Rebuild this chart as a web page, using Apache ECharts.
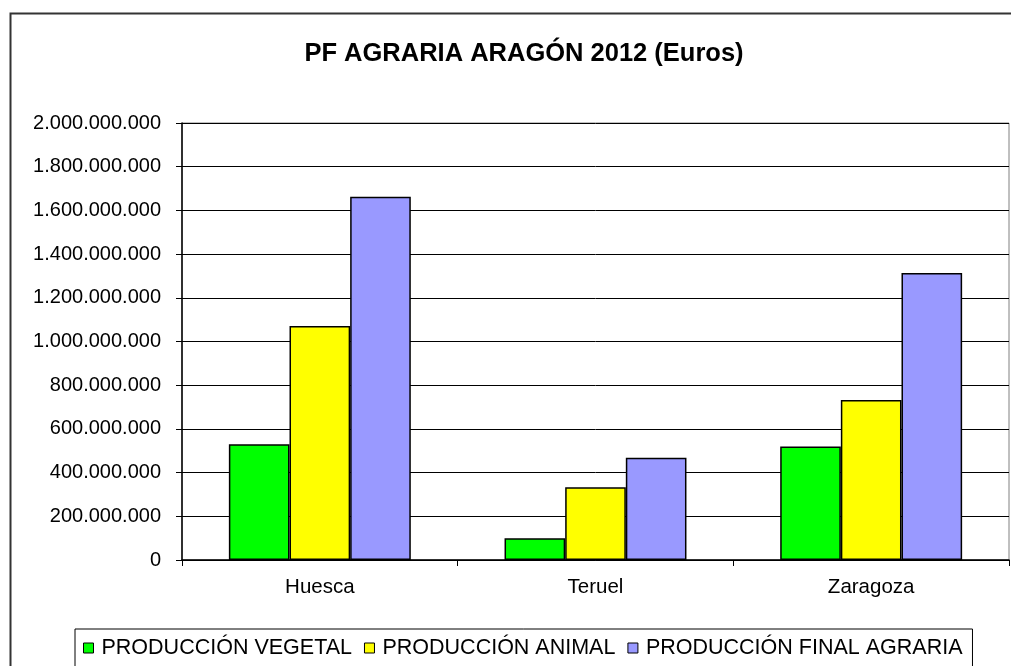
<!DOCTYPE html>
<html>
<head>
<meta charset="utf-8">
<script src="https://cdn.jsdelivr.net/npm/echarts@6/dist/echarts.min.js"></script>
<style>
  html, body { margin: 0; padding: 0; background: #fff; }
  #chart { width: 1011px; height: 666px; }
</style>
</head>
<body>
<div id="chart"></div>
<script>
const categories = ['Huesca', 'Teruel', 'Zaragoza'];
const seriesNames = ['PRODUCCIÓN VEGETAL', 'PRODUCCIÓN ANIMAL', 'PRODUCCIÓN FINAL AGRARIA'];
const vegetal = [530000000, 100000000, 520000000];
const animal = [1071000000, 333000000, 732000000];
const finalAgraria = [1663000000, 468000000, 1313000000];
const seriesColors = ['#00ff00', '#ffff00', '#9999ff'];

const FONT = '"Liberation Sans", Arial, sans-serif';

// 1234567 -> "1.234.567"
function fmtThousands(v) {
  return String(Math.round(v)).replace(/\B(?=(\d{3})+(?!\d))/g, '.');
}

const chart = echarts.init(document.getElementById('chart'), null, { renderer: 'canvas' });

const dataSets = [vegetal, animal, finalAgraria];

chart.setOption({
  backgroundColor: '#ffffff',
  animation: false,
  title: {
    text: 'PF AGRARIA ARAGÓN 2012 (Euros)',
    left: 519,
    textAlign: 'center',
    top: 36,
    textStyle: { fontFamily: FONT, fontSize: 25.5, fontWeight: 'bold', color: '#000' }
  },
  graphic: [{
    // outer chart frame
    type: 'rect',
    shape: { x: 10.5, y: 13.5, width: 1040, height: 700 },
    style: { fill: null, stroke: '#333', lineWidth: 2 },
    silent: true,
    z: -1
  }],
  legend: {
    data: seriesNames,
    left: 75,
    top: 629,
    itemWidth: 10,
    itemHeight: 10,
    itemGap: 12,
    padding: [8, 10, 20, 8],
    borderColor: '#000',
    borderWidth: 1,
    icon: 'rect',
    itemStyle: { borderColor: '#000', borderWidth: 1 },
    textStyle: { fontFamily: FONT, fontSize: 21.5, color: '#000', padding: [0, 0, 0, 3] }
  },
  grid: {
    left: 182, right: 2, top: 123, bottom: 106, containLabel: false,
    show: true, borderColor: '#808080', borderWidth: 1
  },
  xAxis: {
    type: 'category',
    data: categories,
    axisLine: { lineStyle: { color: '#000', width: 1.5 } },
    axisTick: { show: true, alignWithLabel: false, length: 6, lineStyle: { color: '#000' } },
    axisLabel: { fontFamily: FONT, fontSize: 20.5, color: '#000', margin: 17 }
  },
  yAxis: {
    type: 'value',
    min: 0,
    max: 2000000000,
    interval: 200000000,
    axisLine: { show: true, lineStyle: { color: '#000', width: 1.5 } },
    axisTick: { show: true, length: 6, lineStyle: { color: '#000' } },
    splitLine: { show: true, lineStyle: { color: '#000', width: 1 } },
    axisLabel: { fontFamily: FONT, fontSize: 20, color: '#000', margin: 21, formatter: fmtThousands }
  },
  series: seriesNames.map((name, i) => ({
    name: name,
    type: 'bar',
    data: dataSets[i],
    barGap: '0%',
    barCategoryGap: '34%',
    itemStyle: { color: seriesColors[i], borderColor: '#000', borderWidth: 1.5 }
  }))
});
</script>
</body>
</html>
